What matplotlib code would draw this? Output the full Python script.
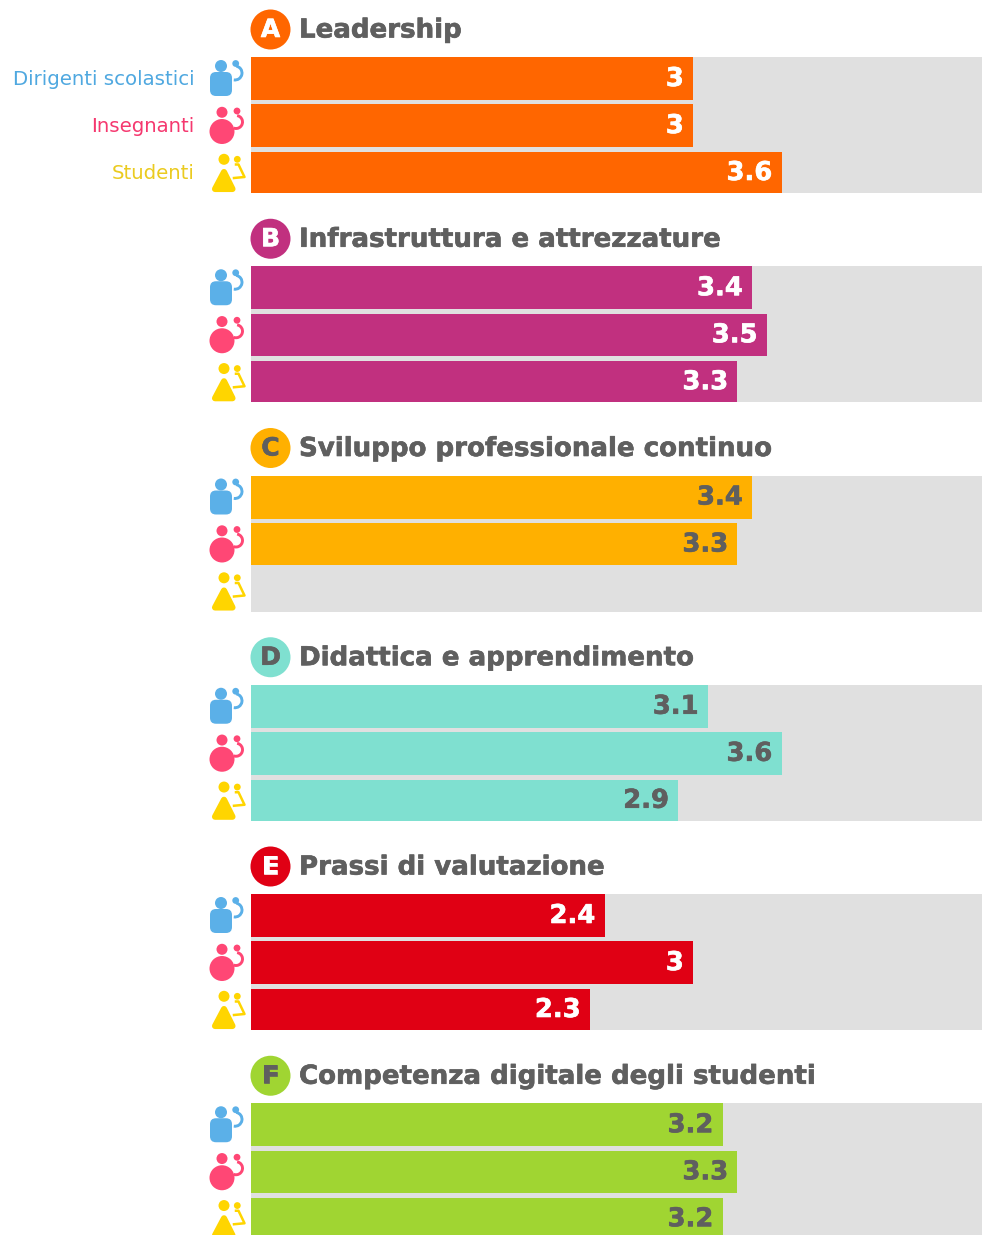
import matplotlib
matplotlib.use("Agg")
import matplotlib.pyplot as plt
import matplotlib.patheffects as pe
from matplotlib.patches import Circle, FancyBboxPatch, Arc, Polygon

categories = ["Leadership", "Infrastruttura e attrezzature", "Sviluppo professionale continuo",
              "Didattica e apprendimento", "Prassi di valutazione", "Competenza digitale degli studenti"]
letters = ["A", "B", "C", "D", "E", "F"]
groups = ["Dirigenti scolastici", "Insegnanti", "Studenti"]
dirigenti = [3, 3.4, 3.4, 3.1, 2.4, 3.2]
insegnanti = [3, 3.5, 3.3, 3.6, 3, 3.3]
studenti = [3.6, 3.3, None, 2.9, 2.3, 3.2]
cat_colors = ["#FF6600", "#C1307F", "#FFB000", "#7FE0D0", "#E00014", "#A0D532"]
value_colors = ["white", "white", "#5F5F5F", "#5F5F5F", "white", "#5F5F5F"]
group_colors = ["#5BB0E8", "#FF4775", "#FFD500"]
legend_text_colors = ["#4FA8E0", "#F5386F", "#EBCB20"]

W, H = 982, 1235
GREY = "#E0E0E0"
TXT = "#5F5F5F"
PX = 147.4
plt.rcParams["font.family"] = "DejaVu Sans"

fig = plt.figure(figsize=(W / 100, H / 100), dpi=100, facecolor="white")
ov = fig.add_axes([0, 0, 1, 1])
ov.set_xlim(0, W)
ov.set_ylim(H, 0)
ov.axis("off")
ax = fig.add_axes([251 / W, 0, (W - 251) / W, 1])
ax.set_xlim(0, (W - 251) / PX)
ax.set_ylim(H, 0)
ax.axis("off")
ax.patch.set_alpha(0)

period = 209.25
row_top = [0, 47.3, 95]
row_h = [43, 42.5, 41]


def heavy(color, w=0.45):
    return [pe.withStroke(linewidth=w, foreground=color)]


def icon(kind, dy):
    c = group_colors[kind]
    y = dy + 57 + [0, 47, 94][kind]
    kw = dict(fc=c, ec="none")
    if kind == 0:
        ov.add_patch(FancyBboxPatch((213, y + 18), 16, 18, boxstyle="round,pad=3,rounding_size=6", **kw))
        ov.add_patch(Circle((221, y + 9), 6, **kw))
        ov.add_patch(Circle((235.7, y + 6.5), 3.4, **kw))
        ov.add_patch(Arc((235, y + 16), 14, 14, theta1=-80, theta2=100, ec=c, lw=2.1))
    elif kind == 1:
        ov.add_patch(Circle((222, y + 27.5), 12.5, **kw))
        ov.add_patch(Circle((222, y + 8.3), 5.5, **kw))
        ov.add_patch(Circle((237, y + 7), 3.4, **kw))
        ov.add_patch(Arc((236, y + 18), 13, 13, theta1=-80, theta2=110, ec=c, lw=2.1))
    else:
        ov.add_patch(Polygon([[224, y + 21], [215, y + 38], [232.5, y + 38]], closed=True,
                             fc=c, ec=c, lw=4.4, joinstyle="round"))
        ov.add_patch(Circle((224, y + 8.3), 5.5, **kw))
        ov.add_patch(Circle((237.3, y + 8.3), 3.4, **kw))
        ov.plot([236, 238.5, 244.5, 234], [y + 13.5, y + 13.5, y + 26, y + 27], color=c, lw=1.8,
                solid_joinstyle="round")


for i, name in enumerate(categories):
    dy = period * i
    top = 57 + dy
    ax.barh(top, 6, height=136, align="edge", color=GREY, lw=0)
    vals = [dirigenti[i], insegnanti[i], studenti[i]]
    for j, v in enumerate(vals):
        icon(j, dy)
        if v is None:
            continue
        yb = top + row_top[j]
        ax.barh(yb, v, height=row_h[j], align="edge", color=cat_colors[i], lw=0)
        ax.annotate(f"{v:g}", (v, yb + row_h[j] / 2 + 0.5), xytext=(-9.5 * 0.72, 0), textcoords="offset points",
                    ha="right", va="center", fontsize=18.6, fontweight="bold", color=value_colors[i],
                    annotation_clip=False, path_effects=heavy(value_colors[i]))
    ov.add_patch(Circle((270.5, 29.5 + dy), 20, fc=cat_colors[i], ec="none"))
    ov.text(270.5, 30 + dy, letters[i], ha="center", va="center", fontsize=18, fontweight="bold",
            color=value_colors[i], path_effects=heavy(value_colors[i]))
    ov.text(299, 30.5 + dy, name, ha="left", va="center", fontsize=18.77, fontweight="bold", color=TXT,
            path_effects=heavy(TXT))

for j, g in enumerate(groups):
    ov.text(194.5, 79.5 + 47 * j, g, ha="right", va="center", fontsize=14.2, color=legend_text_colors[j])

fig.savefig("out.png", dpi=100)
